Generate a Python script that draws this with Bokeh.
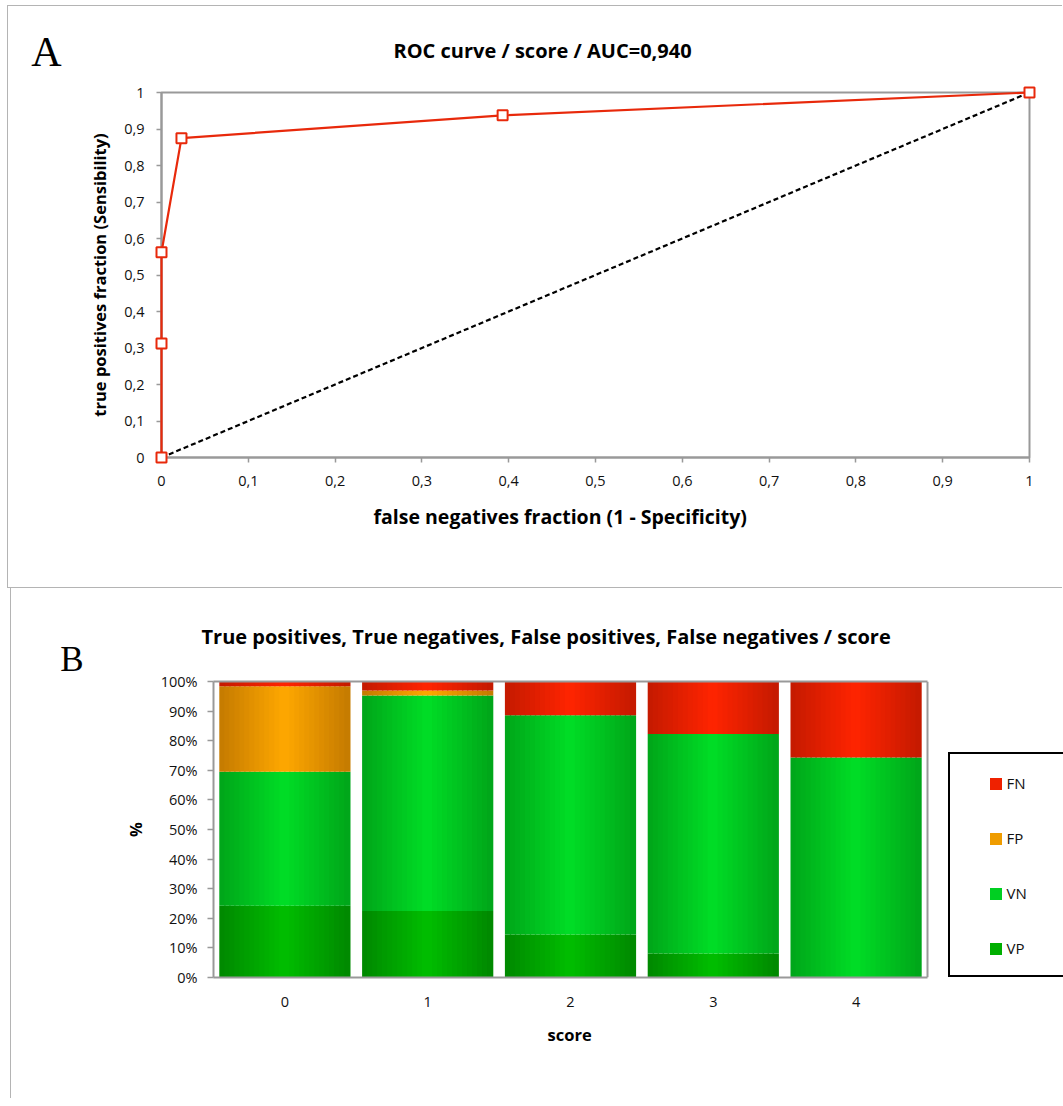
from bokeh.plotting import figure
from bokeh.models import (ColumnDataSource, Legend, LegendItem, FixedTicker, Range1d, Title,
                          LinearAxis, Span)
from bokeh.transform import dodge
from bokeh.embed import file_html
from bokeh.resources import INLINE

# ---------------- Panel A data (ROC curve) ----------------
roc_fpr = [0.0, 0.0, 0.0, 0.023, 0.393, 1.0]
roc_tpr = [0.0, 0.3125, 0.5625, 0.875, 0.9375, 1.0]
diag_x = [0.0, 1.0]
diag_y = [0.0, 1.0]
roc_ticks = [0.0, 0.1, 0.2, 0.3, 0.4, 0.5, 0.6, 0.7, 0.8, 0.9, 1.0]
roc_tick_labels = ["0", "0,1", "0,2", "0,3", "0,4", "0,5", "0,6", "0,7", "0,8", "0,9", "1"]
title_a = "ROC curve / score / AUC=0,940"
xlabel_a = "false negatives fraction (1 - Specificity)"
ylabel_a = "true positives fraction (Sensibility)"

# ---------------- Panel B data (stacked %) ----------------
scores = ["0", "1", "2", "3", "4"]
vp = [24.2, 22.5, 14.5, 8.1, 0.0]
vn = [45.3, 72.8, 74.1, 74.2, 74.3]
fp = [28.9, 1.7, 0.0, 0.0, 0.0]
fn = [1.6, 3.0, 11.4, 17.7, 25.7]
pct_ticks = [0, 10, 20, 30, 40, 50, 60, 70, 80, 90, 100]
pct_labels = ["0%", "10%", "20%", "30%", "40%", "50%", "60%", "70%", "80%", "90%", "100%"]
title_b = "True positives, True negatives, False positives, False negatives / score"
xlabel_b = "score"
ylabel_b = "%"
legend_labels = ["FN", "FP", "VN", "VP"]

SANS = "Open Sans"
SERIF = "Liberation Serif"
GRAY = "#999999"
BOX = "1px solid #b4b4b4"


def style_axis(ax, ticks, labels, tick_out, standoff):
    ax.ticker = FixedTicker(ticks=ticks)
    ax.major_label_overrides = {t: l for t, l in zip(ticks, labels)}
    ax.axis_line_color = GRAY
    ax.axis_line_width = 2
    ax.major_tick_line_color = GRAY if tick_out else None
    ax.major_tick_line_width = 1.5
    ax.major_tick_out = tick_out
    ax.major_tick_in = 0
    ax.minor_tick_line_color = None
    ax.major_label_standoff = standoff
    ax.major_label_text_font = SANS
    ax.major_label_text_font_size = "14.5px"
    ax.major_label_text_color = "#111111"
    ax.axis_label_text_font = SANS
    ax.axis_label_text_font_style = "bold"
    ax.axis_label_text_font_size = "16.5px"
    ax.axis_label_text_color = "black"


def style_title(t, text, offset, standoff):
    t.text = text
    t.align = "left"
    t.offset = offset
    t.standoff = standoff
    t.text_font = SANS
    t.text_font_style = "bold"
    t.text_font_size = "20px"
    t.text_color = "black"


def letter_axis(p, letter, tick_value, size, line_height, standoff):
    # panel letter drawn as the tick label of an extra, line-less axis on the left
    ax = LinearAxis(ticker=FixedTicker(ticks=[tick_value]),
                    major_label_overrides={tick_value: letter + "\n "},
                    axis_line_color=None, major_tick_line_color=None,
                    minor_tick_line_color=None, major_tick_out=0, major_tick_in=0,
                    major_label_standoff=standoff, major_label_orientation="horizontal",
                    major_label_text_font=SERIF, major_label_text_font_size=size,
                    major_label_text_line_height=line_height, major_label_text_color="black")
    p.add_layout(ax, "left")


# ================= Panel A =================
pA = figure(width=1055, height=583, output_backend="svg", toolbar_location=None,
            x_range=Range1d(0, 1), y_range=Range1d(0, 1),
            min_border_left=153, min_border_right=34, min_border_top=85, min_border_bottom=132)
pA.styles = {"margin-left": "7px", "margin-top": "5px", "border-left": BOX,
             "border-top": BOX, "border-bottom": BOX}
pA.grid.visible = False
pA.outline_line_color = GRAY
pA.outline_line_width = 2
style_axis(pA.xaxis[0], roc_ticks, roc_tick_labels, 5, 13)
style_axis(pA.yaxis[0], roc_ticks, roc_tick_labels, 5, 12)
pA.yaxis[0].axis_label = ylabel_a
pA.yaxis[0].axis_label_standoff = 10
style_title(pA.title, title_a, 232, 57)
pA.add_layout(Title(text=xlabel_a, align="left", offset=212, standoff=25, text_font=SANS,
                    text_font_style="bold", text_font_size="19.5px", text_color="black"),
              "below")
letter_axis(pA, "A", 1.0, "42px", 1.74, 24)

pA.line(diag_x, diag_y, line_color="black", line_width=2.2, line_dash="5 3", level="overlay")
pA.line(roc_fpr, roc_tpr, line_color="#e8290b", line_width=2.2, level="overlay")
pA.scatter(roc_fpr, roc_tpr, marker="square", size=10, fill_color="white",
           line_color="#e8290b", line_width=2, level="overlay")

# ================= Panel B =================
# the frame runs to the right edge so that the legend (inside the frame) is not clipped;
# category spacing 142.8 px over a frame of 850 px
n = len(scores)
x_end = -0.5 + 850 / 142.8
pB = figure(width=1052, height=510, output_backend="svg", toolbar_location=None,
            x_range=Range1d(-0.5, x_end), y_range=Range1d(0, 100),
            min_border_left=202, min_border_right=0, min_border_top=91, min_border_bottom=121)
pB.styles = {"margin-left": "10px", "border-left": BOX}
pB.grid.visible = False
pB.outline_line_color = None
style_axis(pB.xaxis[0], list(range(n)), scores, 0, 19)
style_axis(pB.yaxis[0], pct_ticks, pct_labels, 6, 10)
pB.xaxis[0].bounds = (-0.5, n - 0.5)
pB.yaxis[0].axis_label = ylabel_b
pB.yaxis[0].axis_label_standoff = 11
style_title(pB.title, title_b, -12, 64)
pB.add_layout(Title(text=xlabel_b, align="left", offset=334, standoff=22, text_font=SANS,
                    text_font_style="bold", text_font_size="16.5px", text_color="black"),
              "below")
letter_axis(pB, "B", 100, "35px", 1.15, 37)

# top and right edges of the plot box
top_edge = LinearAxis(ticker=FixedTicker(ticks=[]), bounds=(-0.5, n - 0.5),
                      axis_line_color=GRAY, axis_line_width=2, major_tick_line_color=None,
                      minor_tick_line_color=None, major_tick_out=0, minor_tick_out=0,
                      major_label_standoff=0)
pB.add_layout(top_edge, "above")
pB.add_layout(Span(location=n - 0.5, dimension="height", line_color=GRAY, line_width=2))

series = ["vp", "vn", "fp", "fn"]
edge_col = {"vp": (0, 136, 0), "vn": (0, 165, 25), "fp": (196, 122, 0), "fn": (196, 26, 0)}
center_col = {"vp": (0, 190, 0), "vn": (0, 222, 38), "fp": (255, 168, 0), "fn": (255, 36, 0)}


def mix(a, b, t):
    return "#%02x%02x%02x" % tuple(int(round(a[i] + (b[i] - a[i]) * t)) for i in range(3))


src = ColumnDataSource(dict(x=list(range(n)), vp=vp, vn=vn, fp=fp, fn=fn))
bar_w = 0.91
N = 26
legend_r = None
for j in range(N):
    frac = (j + 0.5) / N - 0.5
    t = 1 - abs(2 * frac)
    cols = [mix(edge_col[s], center_col[s], t) for s in series]
    rs = pB.vbar_stack(series, x=dodge("x", frac * bar_w, range=pB.x_range),
                       width=bar_w / N * 1.25, fill_color=cols, line_color=None, source=src)
    if j == 9:
        legend_r = rs

# legend frame (box only, runs past the right edge like the original)
dummy = pB.scatter(x=[], y=[], size=1, alpha=0)
box = Legend(items=[LegendItem(label=" ", renderers=[dummy])], location=(735, 0),
             padding=0, margin=0, spacing=0, glyph_width=1, glyph_height=1,
             label_standoff=0, label_width=140, label_height=221,
             border_line_color="black", border_line_width=2, border_line_alpha=1,
             background_fill_color="white", background_fill_alpha=1)
pB.add_layout(box)

# legend entries: FN, FP, VN, VP from top
entries = Legend(items=[LegendItem(label=lab, renderers=[legend_r[k]])
                        for lab, k in zip(legend_labels, [3, 2, 1, 0])],
                 location=(774.5, 19), padding=0, margin=0, spacing=35,
                 glyph_width=15, glyph_height=15, label_standoff=4, label_height=20,
                 label_text_font=SANS, label_text_font_size="15px",
                 label_text_color="#111111", border_line_color=None,
                 background_fill_alpha=0)
pB.add_layout(entries)

open("out.html", "w").write(file_html([pA, pB], INLINE))
